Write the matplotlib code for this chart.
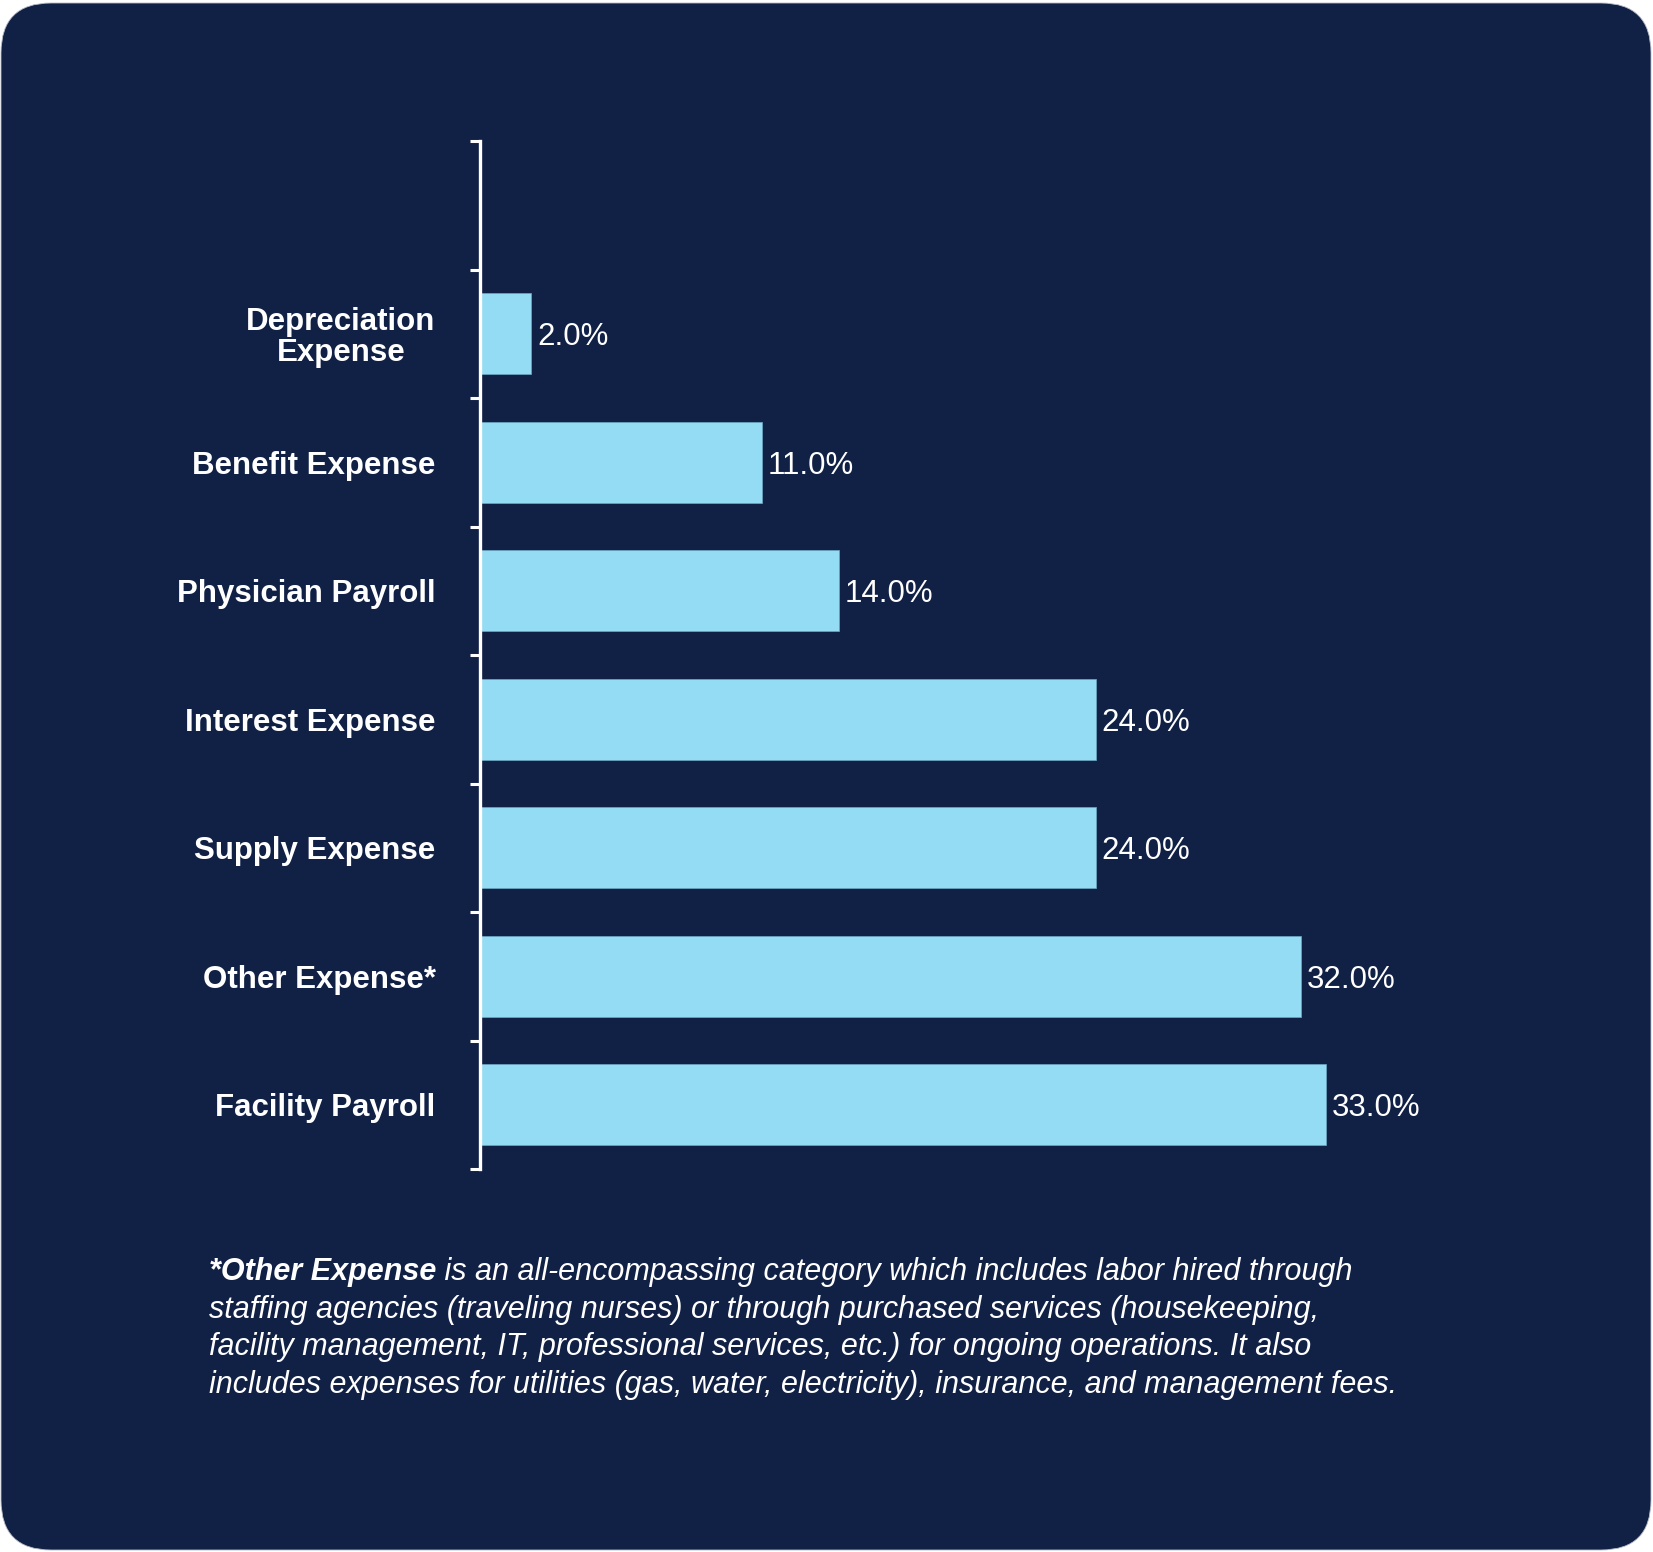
import matplotlib.pyplot as plt
from matplotlib.patches import FancyBboxPatch

# Daten
categories = ["Facility Payroll", "Other Expense*", "Supply Expense", "Interest Expense",
              "Physician Payroll", "Benefit Expense", "Depreciation\nExpense"]
values = [33.0, 32.0, 24.0, 24.0, 14.0, 11.0, 2.0]

note_bold = "*Other Expense"
note_lines = [
    " is an all-encompassing category which includes labor hired through",
    "staffing agencies (traveling nurses) or through purchased services (housekeeping,",
    "facility management, IT, professional services, etc.) for ongoing operations. It also",
    "includes expenses for utilities (gas, water, electricity), insurance, and management fees.",
]

navy = "#112045"
bar_col = "#94dcf3"
W, H = 1653, 1552

plt.rcParams['font.family'] = ['Liberation Sans', 'DejaVu Sans']
fig = plt.figure(figsize=(W / 100, H / 100), dpi=100, facecolor="white")

# tlo - zaokraglona karta
bg = fig.add_axes([0, 0, 1, 1], zorder=-1)
bg.set_xlim(0, W)
bg.set_ylim(H, 0)
bg.axis("off")
bg.add_patch(FancyBboxPatch((1, 3), W - 3, H - 5, boxstyle="round,pad=0,rounding_size=50",
                            facecolor=navy, edgecolor="#b8bcc8", linewidth=0.6))

# wykres slupkowy
ax = fig.add_axes([480 / W, (H - 1169) / H, 1026 / W, (1169 - 141) / H])
ax.set_facecolor("none")
ypos = list(range(len(categories)))
ax.barh(ypos, values, height=0.63, color=bar_col, edgecolor="#6fa9c4", linewidth=0.5)
for y, v in zip(ypos, values):
    ax.text(v + 0.22, y, f"{v:.1f}%", va="center_baseline", ha="left", color="white",
            fontsize=22.5)

ax.set_xlim(0, 40)
ax.set_ylim(-0.5, len(categories) + 0.5)
ax.set_xticks([])
ax.set_yticks(ypos)
ax.set_yticklabels(categories, fontsize=22.5, fontweight="bold", color="white",
                   multialignment="center", linespacing=1.05)
ax.tick_params(axis="y", which="major", length=0, pad=32)
ax.set_yticks([i - 0.5 for i in range(len(categories) + 2)], minor=True)
ax.tick_params(axis="y", which="minor", length=7, width=2.2, color="white", direction="out")
for s in ["top", "right", "bottom"]:
    ax.spines[s].set_visible(False)
ax.spines["left"].set_color("white")
ax.spines["left"].set_linewidth(2.4)

# przypis
x0, y0, dy = 209, 1280, 37.6
fs = 22
t = bg.text(x0, y0, note_bold, color="white", fontsize=fs, fontstyle="italic",
            fontweight="bold", va="baseline", ha="left")
r = fig.canvas.get_renderer()
bb = t.get_window_extent(renderer=r)
bg.text(x0 + bb.width, y0, note_lines[0], color="white", fontsize=fs, fontstyle="italic",
        va="baseline", ha="left")
for i, line in enumerate(note_lines[1:], start=1):
    bg.text(x0, y0 + i * dy, line, color="white", fontsize=fs, fontstyle="italic",
            va="baseline", ha="left")

plt.savefig("out.png", dpi=100, facecolor="white")
